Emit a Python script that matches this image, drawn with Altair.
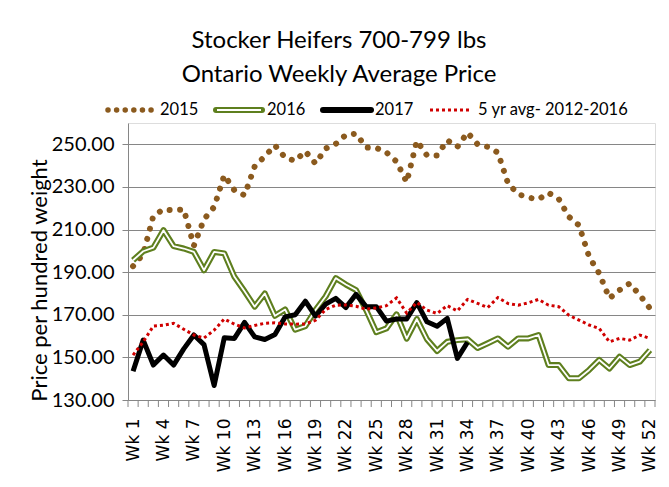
import altair as alt
import pandas as pd

weeks = list(range(1, 53))
label_weeks = list(range(1, 53, 3))
y_ticks = [130, 150, 170, 190, 210, 230, 250]

p2015 = [192.8, 198.5, 216.4, 219.5, 219.0, 219.5, 202.4, 214.8, 220.6, 235.5,
         228.4, 226.1, 239.6, 244.4, 249.5, 243.8, 242.2, 246.7, 241.0, 248.0,
         250.2, 254.4, 255.0, 248.5, 248.3, 246.2, 241.9, 232.2, 251.6, 244.8,
         244.8, 251.9, 248.8, 255.5, 250.0, 248.8, 246.1, 231.6, 226.6, 225.0,
         224.2, 227.2, 224.4, 216.0, 212.0, 197.2, 189.4, 177.7, 181.6, 184.7,
         179.2, 173.0]
p2016 = [195.6, 199.8, 201.5, 209.7, 202.2, 201.1, 199.5, 190.9, 199.5, 198.8,
         187.8, 181.0, 173.8, 180.0, 169.5, 172.5, 163.0, 164.7, 172.2, 178.6,
         187.2, 184.2, 181.6, 172.2, 161.8, 163.6, 170.2, 158.8, 168.0, 158.5,
         153.0, 157.3, 158.1, 158.5, 154.4, 156.6, 158.9, 155.0, 158.9, 158.9,
         160.5, 146.4, 146.4, 140.2, 140.2, 144.1, 148.8, 144.8, 150.3, 146.4,
         148.0, 153.4]
p2017 = [143.5, 158.1, 146.4, 151.1, 146.4, 154.0, 160.5, 156.0, 136.8, 159.2,
         158.9, 166.4, 159.6, 158.4, 160.7, 169.0, 170.0, 176.4, 169.4, 175.0,
         177.7, 173.4, 179.6, 173.8, 173.8, 167.0, 168.0, 168.0, 175.7, 166.7,
         164.6, 168.3, 149.5, 157.1]
avg5 = [151.1, 157.3, 164.7, 165.1, 166.0, 163.2, 160.5, 159.1, 162.8, 168.0,
        165.6, 163.8, 165.0, 166.0, 166.2, 165.7, 165.6, 165.7, 167.4, 172.5,
        174.5, 174.6, 174.0, 172.6, 173.2, 174.3, 177.9, 170.8, 175.8, 172.2,
        170.6, 174.3, 171.8, 177.2, 175.3, 173.4, 178.1, 175.3, 174.5, 175.6,
        177.2, 174.5, 173.8, 169.8, 167.5, 165.2, 163.6, 157.3, 158.9, 158.1,
        160.5, 158.9]

rows = []
for name, vals in [("2015", p2015), ("2016", p2016), ("2017", p2017), ("avg", avg5)]:
    for w, v in zip(weeks, vals):
        rows.append({"week": w, "series": name, "price": v})
df = pd.DataFrame(rows)

boundaries = pd.DataFrame({"week": [w - 0.5 for w in weeks] + [52.5]})
one = pd.DataFrame({"k": [0]})

W, H = 527, 277
FONT = "Lato"
XFONT = "DejaVu Sans"
GRID = "#868686"
BROWN = "#8B5A1E"
GREEN = "#5E7F1E"
RED = "#D00000"

xscale = alt.Scale(domain=[0.5, 52.5], nice=False, zero=False)
yscale = alt.Scale(domain=[130, 260], nice=False, zero=False)

xaxis = alt.Axis(values=label_weeks, labelExpr="'Wk ' + datum.value",
                 labelAngle=270, labelAlign="right", labelBaseline="middle",
                 ticks=False, domain=False, grid=False, labelPadding=18,
                 title=None, labelFont=XFONT, labelFontSize=17,
                 labelColor="black", labelOverlap=False)
x = alt.X("week:Q", scale=xscale, axis=xaxis)
y = alt.Y("price:Q", scale=yscale,
          axis=alt.Axis(values=y_ticks, format=".2f", grid=True, gridColor=GRID,
                        tickColor=GRID, tickSize=6, domainColor=GRID,
                        labelPadding=8, labelFont=FONT, labelFontSize=20,
                        labelColor="black",
                        title="Price per hundred weight", titleX=-89, titleY=157,
                        titleAngle=270, titleAlign="center", titleBaseline="middle",
                        titleFont=FONT, titleFontSize=22, titleFontWeight="normal",
                        titleColor="black"))

base = alt.Chart(df).encode(x=x, y=y)

l2015 = base.transform_filter("datum.series == '2015'").mark_line(
    color=BROWN, strokeWidth=6, strokeDash=[0.01, 10.5], strokeCap="round")
l2016a = base.transform_filter("datum.series == '2016'").mark_line(
    color=GREEN, strokeWidth=6, strokeJoin="round")
l2016b = base.transform_filter("datum.series == '2016'").mark_line(
    color="white", strokeWidth=1.8, strokeJoin="round")
l2017 = base.transform_filter("datum.series == '2017'").mark_line(
    color="black", strokeWidth=5, strokeJoin="round")
lavg = base.transform_filter("datum.series == 'avg'").mark_line(
    color=RED, strokeWidth=3, strokeDash=[3, 3])

ticks = alt.Chart(boundaries).mark_rule(color=GRID, strokeWidth=1).encode(
    x=x, y=alt.value(H), y2=alt.value(H + 7))

LY = -13
def txt(s, xpos, ypos, size):
    return alt.Chart(one).mark_text(text=s, font=FONT, fontSize=size, align="left",
                                    baseline="middle", color="black").encode(
        x=alt.value(xpos), y=alt.value(ypos))

def ctxt(s, xpos, ypos, size):
    return alt.Chart(one).mark_text(text=s, font=FONT, fontSize=size, align="center",
                                    baseline="alphabetic", color="black").encode(
        x=alt.value(xpos), y=alt.value(ypos))

def sw(x0, x1, **kw):
    return alt.Chart(one).mark_rule(**kw).encode(
        x=alt.value(x0), x2=alt.value(x1), y=alt.value(LY))

legend = [
    sw(-20, 24, color=BROWN, strokeWidth=5.5, strokeDash=[0.01, 8.6], strokeCap="round"),
    txt("2015", 32, LY, 16.5),
    sw(88, 134, color=GREEN, strokeWidth=6, strokeCap="round"),
    sw(89, 133, color="white", strokeWidth=1.8),
    txt("2016", 139, LY, 16.5),
    sw(195, 243, color="black", strokeWidth=6, strokeCap="round"),
    txt("2017", 247, LY, 16.5),
    sw(302, 342, color=RED, strokeWidth=3, strokeDash=[3, 3]),
    txt("5 yr avg- 2012-2016", 350, LY, 16.5),
]

titles = [
    ctxt("Stocker Heifers 700-799 lbs", 211, -75, 24),
    ctxt("Ontario Weekly Average Price", 211, -41, 24),
]

chart = alt.layer(l2015, l2016a, l2016b, l2017, lavg, ticks, *legend, *titles).properties(
    width=W, height=H, autosize="none",
    padding={"left": 120, "top": 115, "right": 6, "bottom": 79},
).configure_view(stroke=None).configure(background="white")

chart.save("out.html", embed_options={"renderer": "svg", "actions": False})
